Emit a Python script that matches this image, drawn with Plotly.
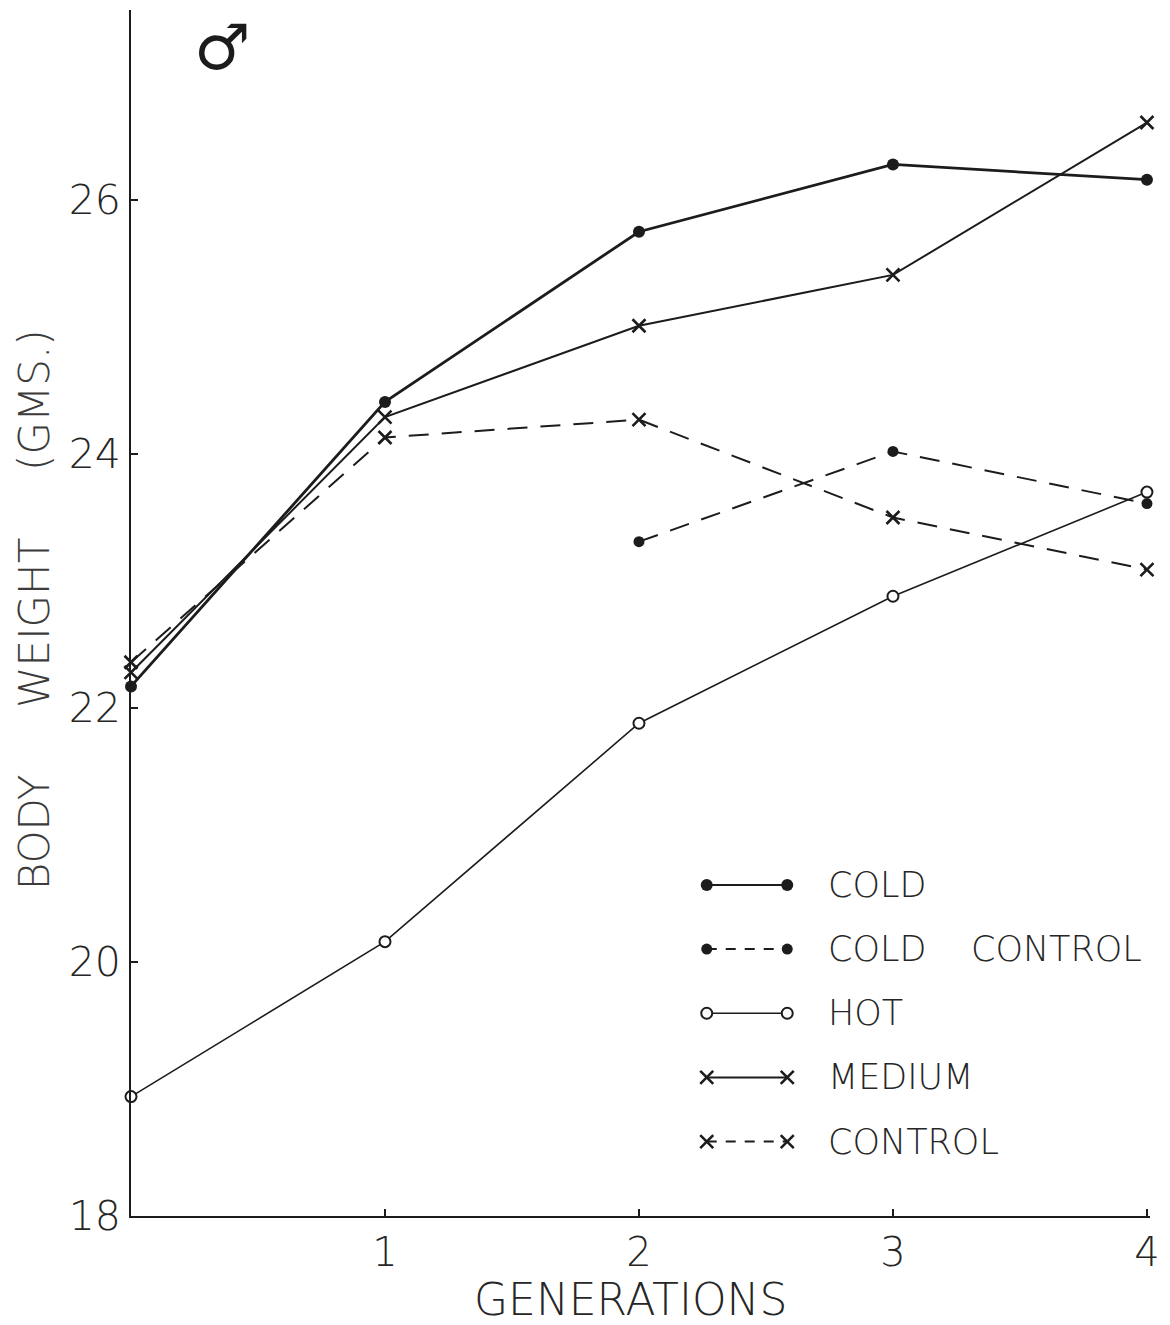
import plotly.graph_objects as go

# Body weight of male mice (grams) across generations
generations = [0, 1, 2, 3, 4]
cold = [22.17, 24.41, 25.75, 26.28, 26.16]
cold_control_gen = [2, 3, 4]
cold_control = [23.31, 24.02, 23.61]
hot = [18.94, 20.16, 21.88, 22.88, 23.70]
medium = [22.28, 24.29, 25.01, 25.41, 26.61]
control = [22.36, 24.13, 24.27, 23.50, 23.09]

x_ticks = [1, 2, 3, 4]
y_ticks = [18, 20, 22, 24, 26]

INK = "#1c1c1c"
TEXT = "#262626"
FONT = "DejaVu Sans, sans-serif"
LIGHT = 200
NB = "\u00a0"

DASH = "20px,13px"

series = [
    dict(name="COLD", x=generations, y=cold, dash="solid", width=2.8,
         marker=dict(symbol="circle", size=12, color=INK)),
    dict(name="COLD" + NB * 4 + "CONTROL", x=cold_control_gen, y=cold_control, dash=DASH, width=2.0,
         marker=dict(symbol="circle", size=11, color=INK)),
    dict(name="HOT", x=generations, y=hot, dash="solid", width=1.6,
         marker=dict(symbol="circle", size=11, color="white", line=dict(color=INK, width=2))),
    dict(name="MEDIUM", x=generations, y=medium, dash="solid", width=2.0,
         marker=dict(symbol="x-thin-open", size=13, color=INK, line=dict(color=INK, width=2.6))),
    dict(name="CONTROL", x=generations, y=control, dash=DASH, width=2.0,
         marker=dict(symbol="x-thin-open", size=13, color=INK, line=dict(color=INK, width=2.6))),
]

fig = go.Figure()

for s in series:
    fig.add_trace(go.Scatter(
        x=s["x"], y=s["y"], mode="lines+markers", name=s["name"],
        line=dict(color=INK, width=s["width"], dash=s["dash"]),
        marker=s["marker"], showlegend=False, cliponaxis=False,
    ))

# Hand-drawn style key: a short line with a marker at each end, label to the right
KEY_X0, KEY_X1, KEY_TEXT_X = 0.565, 0.644, 0.682
KEY_TOP, KEY_STEP = 0.2745, 0.0532
for i, s in enumerate(series):
    ky = KEY_TOP - i * KEY_STEP
    fig.add_trace(go.Scatter(
        x=[KEY_X0, KEY_X1], y=[ky, ky], mode="lines+markers",
        line=dict(color=INK, width=2.0 if s["width"] > 1.7 else 1.6,
                  dash="10px,9px" if s["dash"] != "solid" else "solid"),
        marker=s["marker"], xaxis="x2", yaxis="y2", showlegend=False,
        hoverinfo="skip", cliponaxis=False,
    ))
    fig.add_annotation(
        x=KEY_TEXT_X, y=ky, xref="paper", yref="paper", text=s["name"],
        showarrow=False, xanchor="left", yanchor="middle",
        font=dict(family=FONT, size=35, color=TEXT, weight=LIGHT),
    )

fig.add_annotation(
    x=0.49, y=-0.069, xref="paper", yref="paper", text="GENERATIONS",
    showarrow=False, xanchor="center", yanchor="middle",
    font=dict(family=FONT, size=44, color=TEXT, weight=LIGHT),
)
fig.add_annotation(
    x=-0.094, y=0.5025, xref="paper", yref="paper",
    text="BODY" + NB * 5 + "WEIGHT" + NB * 5 + "(GMS.)", textangle=-90,
    showarrow=False, xanchor="center", yanchor="middle",
    font=dict(family=FONT, size=42, color="#3c3c3c", weight=LIGHT),
)
fig.add_annotation(
    x=0.089, y=0.969, xref="paper", yref="paper", text="\u2642",
    showarrow=False, xanchor="center", yanchor="middle",
    font=dict(family="DejaVu Sans", size=63, color=INK),
)

fig.update_layout(
    width=1170, height=1325,
    margin=dict(l=131, r=18, t=10, b=109),
    paper_bgcolor="white", plot_bgcolor="white",
    font=dict(family=FONT, color=TEXT),
    xaxis=dict(
        range=[0, 4.012], tickvals=x_ticks, ticktext=[str(t) for t in x_ticks],
        showgrid=False, zeroline=False, showline=True, linecolor=INK, linewidth=2,
        ticks="inside", ticklen=7, tickwidth=1.5, tickcolor=INK,
        tickfont=dict(family=FONT, size=40, color=TEXT, weight=LIGHT), ticklabelstandoff=0,
    ),
    yaxis=dict(
        range=[18, 27.496], tickvals=y_ticks, ticktext=[str(t) for t in y_ticks],
        showgrid=False, zeroline=False, showline=True, linecolor=INK, linewidth=2,
        ticks="inside", ticklen=7, tickwidth=1.5, tickcolor=INK,
        tickfont=dict(family=FONT, size=41, color=TEXT, weight=LIGHT), ticklabelstandoff=0,
    ),
    xaxis2=dict(domain=[0, 1], range=[0, 1], overlaying="x", visible=False, fixedrange=True),
    yaxis2=dict(domain=[0, 1], range=[0, 1], overlaying="y", visible=False, fixedrange=True),
)

fig.write_html("out.html")
